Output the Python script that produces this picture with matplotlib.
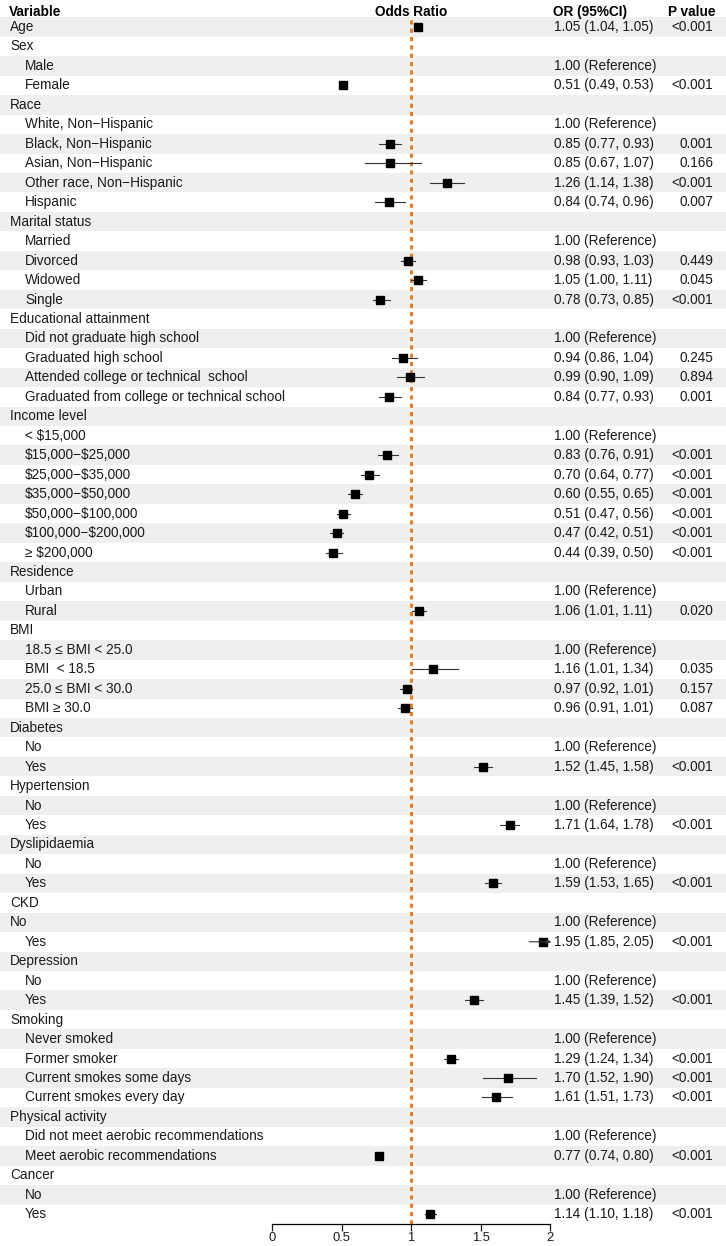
import numpy as np
import matplotlib.pyplot as plt

plt.rcParams['font.family'] = ['Liberation Sans', 'DejaVu Sans']

nan = np.nan

labels = [
    "Age", "Sex", "Male", "Female", "Race", "White, Non\u2212Hispanic",
    "Black, Non\u2212Hispanic", "Asian, Non\u2212Hispanic", "Other race, Non\u2212Hispanic",
    "Hispanic", "Marital status", "Married", "Divorced", "Widowed", "Single",
    "Educational attainment", "Did not graduate high school", "Graduated high school",
    "Attended college or technical  school", "Graduated from college or technical school",
    "Income level", "< \\$15,000", "\\$15,000\u2212\\$25,000", "\\$25,000\u2212\\$35,000",
    "\\$35,000\u2212\\$50,000", "\\$50,000\u2212\\$100,000", "\\$100,000\u2212\\$200,000",
    "\u2265 \\$200,000", "Residence", "Urban", "Rural", "BMI", "18.5 \u2264 BMI < 25.0",
    "BMI  < 18.5", "25.0 \u2264 BMI < 30.0", "BMI \u2265 30.0", "Diabetes", "No", "Yes",
    "Hypertension", "No", "Yes", "Dyslipidaemia", "No", "Yes", "CKD", "No", "Yes",
    "Depression", "No", "Yes", "Smoking", "Never smoked", "Former smoker",
    "Current smokes some days", "Current smokes every day", "Physical activity",
    "Did not meet aerobic recommendations", "Meet aerobic recommendations",
    "Cancer", "No", "Yes",
]
indent = [0, 0, 1, 1, 0, 1, 1, 1, 1, 1, 0, 1, 1, 1, 1, 0, 1, 1, 1, 1,
          0, 1, 1, 1, 1, 1, 1, 1, 0, 1, 1, 0, 1, 1, 1, 1, 0, 1, 1,
          0, 1, 1, 0, 1, 1, 0, 0, 1, 0, 1, 1, 0, 1, 1, 1, 1, 0, 1, 1,
          0, 1, 1]
# nan = group header, 1.00 with nan CI = reference level
odds = [1.05, nan, 1.00, 0.51, nan, 1.00, 0.85, 0.85, 1.26, 0.84,
        nan, 1.00, 0.98, 1.05, 0.78, nan, 1.00, 0.94, 0.99, 0.84,
        nan, 1.00, 0.83, 0.70, 0.60, 0.51, 0.47, 0.44, nan, 1.00, 1.06,
        nan, 1.00, 1.16, 0.97, 0.96, nan, 1.00, 1.52, nan, 1.00, 1.71,
        nan, 1.00, 1.59, nan, 1.00, 1.95, nan, 1.00, 1.45,
        nan, 1.00, 1.29, 1.70, 1.61, nan, 1.00, 0.77, nan, 1.00, 1.14]
ci_low = [1.04, nan, nan, 0.49, nan, nan, 0.77, 0.67, 1.14, 0.74,
          nan, nan, 0.93, 1.00, 0.73, nan, nan, 0.86, 0.90, 0.77,
          nan, nan, 0.76, 0.64, 0.55, 0.47, 0.42, 0.39, nan, nan, 1.01,
          nan, nan, 1.01, 0.92, 0.91, nan, nan, 1.45, nan, nan, 1.64,
          nan, nan, 1.53, nan, nan, 1.85, nan, nan, 1.39,
          nan, nan, 1.24, 1.52, 1.51, nan, nan, 0.74, nan, nan, 1.10]
ci_high = [1.05, nan, nan, 0.53, nan, nan, 0.93, 1.07, 1.38, 0.96,
           nan, nan, 1.03, 1.11, 0.85, nan, nan, 1.04, 1.09, 0.93,
           nan, nan, 0.91, 0.77, 0.65, 0.56, 0.51, 0.50, nan, nan, 1.11,
           nan, nan, 1.34, 1.01, 1.01, nan, nan, 1.58, nan, nan, 1.78,
           nan, nan, 1.65, nan, nan, 2.05, nan, nan, 1.52,
           nan, nan, 1.34, 1.90, 1.73, nan, nan, 0.80, nan, nan, 1.18]
p_values = ["<0.001", "", "", "<0.001", "", "", "0.001", "0.166", "<0.001", "0.007",
            "", "", "0.449", "0.045", "<0.001", "", "", "0.245", "0.894", "0.001",
            "", "", "<0.001", "<0.001", "<0.001", "<0.001", "<0.001", "<0.001", "", "", "0.020",
            "", "", "0.035", "0.157", "0.087", "", "", "<0.001", "", "", "<0.001",
            "", "", "<0.001", "", "", "<0.001", "", "", "<0.001",
            "", "", "<0.001", "<0.001", "<0.001", "", "", "<0.001", "", "", "<0.001"]
x_ticks = [0, 0.5, 1, 1.5, 2]
x_ticklabels = ["0", "0.5", "1", "1.5", "2"]

W, H = 726, 1246
top_px, bot_px = 17.3, 1224
n = len(labels)
fs = 9.8
txt_col = '#1a1a1a'
shade = '#EEF0EF'

fig = plt.figure(figsize=(W / 100, H / 100), dpi=100)
rect_y = 1 - bot_px / H
rect_h = (bot_px - top_px) / H

# background + text columns (x in pixels)
bg = fig.add_axes([0, rect_y, 1, rect_h])
bg.set_xlim(0, W)
bg.set_ylim(n - 0.5, -0.5)
bg.axis('off')
for i in range(0, n, 2):
    bg.axhspan(i - 0.5, i + 0.5, color=shade, lw=0)

hy = -0.78
bg.text(9, hy, "Variable", fontsize=fs, fontweight='bold', va='center', clip_on=False)
bg.text(411, hy, "Odds Ratio", fontsize=fs, fontweight='bold', va='center', ha='center', clip_on=False)
bg.text(553, hy, "OR (95%CI)", fontsize=fs, fontweight='bold', va='center', clip_on=False)
bg.text(716, hy, "P value", fontsize=fs, fontweight='bold', va='center', ha='right', clip_on=False)

for i, lab in enumerate(labels):
    bg.text(10 + 15 * indent[i], i, lab, fontsize=fs, va='center', color=txt_col)
    if not np.isnan(odds[i]):
        if np.isnan(ci_low[i]):
            txt = "1.00 (Reference)"
        else:
            txt = f"{odds[i]:.2f} ({ci_low[i]:.2f}, {ci_high[i]:.2f})"
        bg.text(554, i, txt, fontsize=fs, va='center', color=txt_col)
    if p_values[i]:
        bg.text(713, i, p_values[i], fontsize=fs, va='center', ha='right', color=txt_col)

# forest panel
ax = fig.add_axes([272 / W, rect_y, 278 / W, rect_h])
ax.patch.set_visible(False)
ax.set_xlim(0, 2)
ax.set_ylim(n - 0.5, -0.5)
for s in ['top', 'left', 'right']:
    ax.spines[s].set_visible(False)
ax.spines['bottom'].set_linewidth(0.9)
ax.set_yticks([])
ax.set_xticks(x_ticks)
ax.set_xticklabels(x_ticklabels, fontsize=9.4)
ax.tick_params(axis='x', length=5, width=0.9, pad=1, colors=txt_col)

ax.axvline(1, color='#E8751A', ls=(0, (1.5, 1.5)), lw=2, zorder=1)

xmax = 2
for i in range(n):
    if np.isnan(ci_low[i]):
        continue
    if ci_high[i] > xmax:
        ax.annotate('', xy=(xmax + 0.01, i), xytext=(ci_low[i], i), zorder=4,
                    annotation_clip=False,
                    arrowprops=dict(arrowstyle='-|>', lw=0.8, color='#333333',
                                    mutation_scale=7, shrinkA=0, shrinkB=0))
    else:
        ax.plot([ci_low[i], ci_high[i]], [i, i], color='#333333', lw=0.8, zorder=2)
    ax.plot(odds[i], i, marker='s', ms=5.2, color='black', zorder=3, clip_on=False)

fig.savefig('out.png', dpi=100)
